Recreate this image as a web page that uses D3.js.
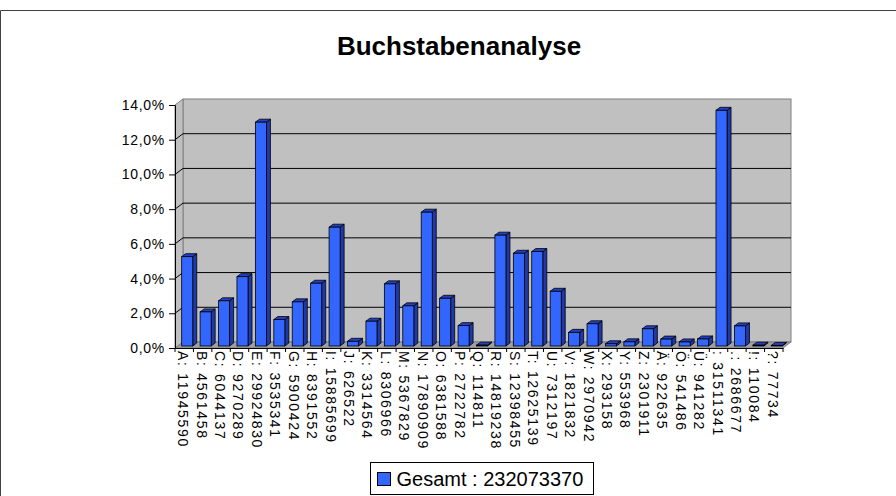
<!DOCTYPE html>
<html>
<head>
<meta charset="utf-8">
<script src="https://cdn.jsdelivr.net/npm/d3@7"></script>
<style>
  body { margin: 0; background: #fff; }
  svg { display: block; font-family: "Liberation Sans", Arial, sans-serif; }
</style>
</head>
<body>
<div id="chart"></div>
<script>
// Buchstaben und absolute Häufigkeiten
const letters = ["A","B","C","D","E","F","G","H","I","J","K","L","M","N","O","P","Q","R","S","T","U","V","W","X","Y","Z","Ä","Ö","Ü"," ",".","!","?"];
const counts = [11945590,4561458,6044137,9270289,29924830,3535341,5900424,8391552,15885699,626522,3314564,8306966,5367829,17890909,6381588,2722782,114811,14819238,12398455,12625139,7312197,1821832,2970942,293158,553968,2301911,922635,541486,941282,31511341,2686677,110084,77734];
const yTicks = [0,2,4,6,8,10,12,14];
const seriesName = "Gesamt";
const chartTitle = "Buchstabenanalyse";

const W = 896, H = 496;
const total = d3.sum(counts);
const data = letters.map((l, i) => ({ label: `${l}: ${counts[i]}`, pct: counts[i] / total * 100 }));

const svg = d3.select('#chart').append('svg').attr('width', W).attr('height', H);

// Rahmen
svg.append('path')
   .attr('d', `M0.5,${H} V10.5 H${W}`)
   .attr('fill', 'none').attr('stroke', '#404040').attr('stroke-width', 1);

svg.append('text')
   .attr('x', 459).attr('y', 55)
   .attr('text-anchor', 'middle')
   .style('font-size', '26px').style('font-weight', 'bold')
   .text(chartTitle);

const Left = 175, Right = 783, Bottom = 348, Top = 105;
const DX = 8, DY = -6;

const x = d3.scaleBand().domain(data.map(d => d.label)).range([Left, Right]);
const y = d3.scaleLinear().domain([0, 14]).range([Bottom, Top]);

// Rückwand, Seitenwand, Boden
svg.append('rect')
   .attr('x', Left + DX).attr('y', Top + DY)
   .attr('width', Right - Left).attr('height', Bottom - Top)
   .attr('fill', '#c0c0c0').attr('stroke', '#808080');
svg.append('path')
   .attr('d', `M${Left},${Top} L${Left + DX},${Top + DY} L${Left + DX},${Bottom + DY} L${Left},${Bottom} Z`)
   .attr('fill', '#c0c0c0').attr('stroke', '#808080');
svg.append('path')
   .attr('d', `M${Left},${Bottom} L${Left + DX},${Bottom + DY} L${Right + DX},${Bottom + DY} L${Right},${Bottom} Z`)
   .attr('fill', '#a0a0a0').attr('stroke', '#808080');

// Gitterlinien
yTicks.filter(t => t > 0 && t < 14).forEach(t => {
    svg.append('path')
       .attr('d', `M${Left},${y(t)} L${Left + DX},${y(t) + DY} H${Right + DX}`)
       .attr('fill', 'none').attr('stroke', '#000').attr('stroke-width', 1);
});

// Achsen
const fmt = d3.format('.1f');
const yAxis = svg.append('g')
   .attr('transform', `translate(${Left},0)`)
   .call(d3.axisLeft(y).tickValues(yTicks).tickSize(6).tickPadding(4).tickFormat(t => fmt(t).replace('.', ',') + '%'));
yAxis.select('.domain').attr('stroke', '#000');
yAxis.selectAll('text')
   .style('font-size', '14px').style('letter-spacing', '0.7px')
   .style('font-family', '"Liberation Sans", Arial, sans-serif').attr('fill', '#000');

const xAxis = svg.append('g')
   .attr('transform', `translate(0,${Bottom})`)
   .call(d3.axisBottom(x).tickSize(0).tickPadding(0));
xAxis.select('.domain').attr('stroke', '#000');
xAxis.selectAll('.tick line').remove();
xAxis.selectAll('.tick text')
   .style('font-size', '14px').style('letter-spacing', '1.7px')
   .style('font-family', '"Liberation Sans", Arial, sans-serif').attr('fill', '#000')
   .attr('text-anchor', 'start')
   .attr('transform', 'translate(-6,3) rotate(90)')
   .attr('dy', '0')
   .attr('y', 0).attr('x', 0);
// Teilstriche zwischen den Kategorien
svg.append('g').selectAll('line')
   .data(d3.range(letters.length + 1))
   .enter().append('line')
   .attr('x1', i => Left + i * x.step()).attr('x2', i => Left + i * x.step())
   .attr('y1', Bottom).attr('y2', Bottom + 4)
   .attr('stroke', '#000');

// 3D-Säulen
const bw = x.bandwidth() * 0.6;
const bd = 4, bdy = -3;
const bars = svg.append('g').selectAll('g').data(data).enter().append('g')
   .attr('transform', d => `translate(${x(d.label) + (x.bandwidth() - bw) / 2 + 3},${-2})`);
bars.append('path')
   .attr('d', d => `M${bw},${y(d.pct)} L${bw + bd},${y(d.pct) + bdy} L${bw + bd},${Bottom + bdy} L${bw},${Bottom} Z`)
   .attr('fill', '#1f3aa8').attr('stroke', '#000').attr('stroke-width', 0.8);
bars.append('path')
   .attr('d', d => `M0,${y(d.pct)} L${bd},${y(d.pct) + bdy} L${bw + bd},${y(d.pct) + bdy} L${bw},${y(d.pct)} Z`)
   .attr('fill', '#2440c8').attr('stroke', '#000').attr('stroke-width', 0.8);
bars.append('rect')
   .attr('x', 0).attr('y', d => y(d.pct))
   .attr('width', bw).attr('height', d => Bottom - y(d.pct))
   .attr('fill', '#3366ff').attr('stroke', '#000').attr('stroke-width', 0.8);

// Legende
const lg = svg.append('g').attr('transform', 'translate(370.5,462.5)');
lg.append('rect').attr('width', 223).attr('height', 32).attr('fill', '#fff').attr('stroke', '#000');
lg.append('rect').attr('x', 7).attr('y', 10).attr('width', 13).attr('height', 13)
  .attr('fill', '#3366ff').attr('stroke', '#000');
lg.append('text').attr('x', 26).attr('y', 23.5)
  .style('font-size', '20px')
  .text(`${seriesName} : ${total}`);
</script>
</body>
</html>
